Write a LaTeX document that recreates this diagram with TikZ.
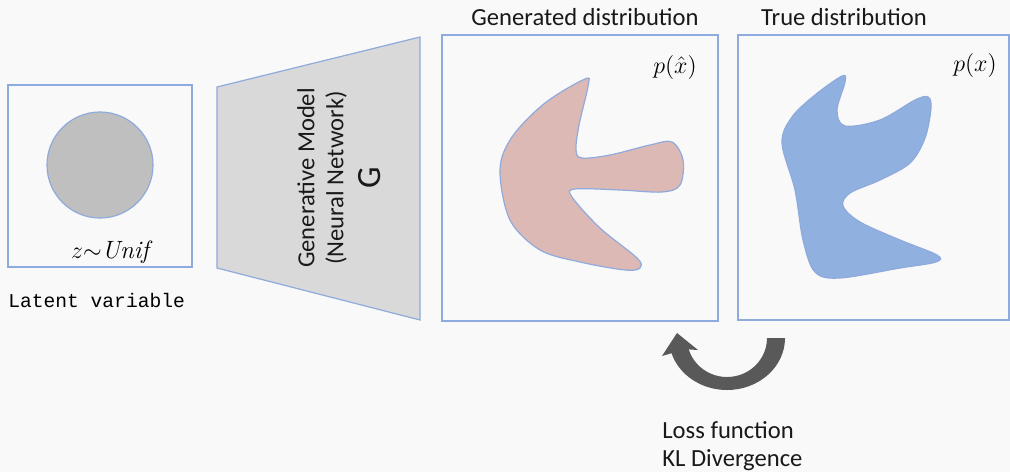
\documentclass[tikz,border=0pt]{standalone}
\usepackage{fontspec}
\setsansfont{Carlito}
\setmonofont{Liberation Mono}
\definecolor{boxblue}{HTML}{8FAADC}
\definecolor{pagegray}{HTML}{F9F9F9}
\definecolor{pinkfill}{HTML}{DDB9B5}
\definecolor{truefill}{HTML}{90B0DF}
\definecolor{arrowgray}{HTML}{595959}
\tikzset{
    panel/.style={draw=boxblue, line width=0.6pt, inner sep=0pt},
    blob/.style={draw=boxblue, line width=0.6pt},
    caption/.style={font=\sffamily\fontsize{12.3}{14.5}\selectfont, text=black!90, inner sep=0pt},
    mathlabel/.style={inner sep=0pt, font=\fontsize{12.5}{14}\selectfont}
}
\begin{document}
\begin{tikzpicture}[x=0.5pt, y=-0.5pt]
\useasboundingbox (0,0) rectangle (1010,472);
\fill[pagegray] (0,0) rectangle (1010,472);

% latent variable
\node[panel, minimum width=92pt, minimum height=91pt] (latent) at (100,176) {};
\node[circle, panel, fill=black!25, minimum size=53pt] (prior) at (100,165) {};
\node[mathlabel] (zlabel) at (110,252) {$z{\sim}\mathit{Unif}$};
\node[anchor=west, inner sep=0pt, font=\ttfamily\fontsize{9.8}{12}\selectfont] (latentname) at (8,300) {Latent variable};

% generator
\path[panel, fill=black!15] (217,87) -- (420,37) -- (420,320) -- (217,268) -- cycle;
\node[caption, rotate=90, align=center] (gen) at (339,178) {Generative Model\\(Neural Network)\\[4pt]{\fontsize{17}{17}\selectfont G}};

% distributions
\node[panel, minimum width=138pt, minimum height=143pt] (genbox) at (580,178) {};
\node[panel, minimum width=135.5pt, minimum height=142.5pt] (truebox) at (873.5,177.5) {};
\node[caption] (gentitle) at (585,17) {Generated distribution};
\node[caption] (truetitle) at (844,17) {True distribution};
\node[mathlabel] (phat) at (675,67) {$p(\hat{x})$};
\node[mathlabel] (ptrue) at (975,65) {$p(x)$};

\draw[blob, fill=pinkfill] plot[smooth cycle, tension=0.55] coordinates {
    (585,79) (588,86) (579,125) (576,150) (582,158) (610,155) (650,145) (672,142)
    (683,160) (680,185) (662,192) (620,190) (575,189) (572,197) (600,228) (637,258)
    (640,268) (625,270) (580,262) (540,250) (510,220) (500,170) (512,137) (545,103)};
\draw[blob, fill=truefill] plot[smooth cycle, tension=0.55] coordinates {
    (842,76) (845,82) (837,110) (845,126) (880,120) (915,100) (928,97) (931,108)
    (925,138) (910,163) (880,180) (850,193) (843,206) (860,222) (900,240) (937,255)
    (936,262) (900,268) (840,278) (815,272) (803,240) (795,190) (782,143) (792,117) (815,95)};

% loss
\coordinate (loop) at (727,338);
\fill[arrowgray] ([shift={(0:58 and 52)}]loop) arc[start angle=0, end angle=163, x radius=58, y radius=52]
    -- (662,356) -- (677,333) -- (698,350)
    -- ([shift={(163:40 and 39)}]loop) arc[start angle=163, end angle=0, x radius=40, y radius=39] -- cycle;
\node[caption, anchor=north west, align=left, font=\sffamily\fontsize{12.3}{13.8}\selectfont] (loss) at (662,421) {Loss function\\KL Divergence};
\end{tikzpicture}
\end{document}
